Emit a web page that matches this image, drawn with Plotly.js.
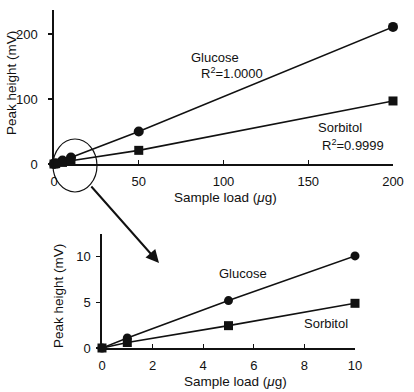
<!DOCTYPE html>
<html><head><meta charset="utf-8">
<script src="https://cdn.plot.ly/plotly-3.0.1.min.js"></script>
<style>html,body{margin:0;padding:0;background:#fff}#c{width:414px;height:392px}</style>
</head><body><div id="c"></div>
<script>
const loadAll = [0, 1, 5, 10, 50, 200];
const glucoseAll = [0, 1.1, 5.2, 10.1, 50, 211];
const sorbitolAll = [0, 0.55, 2.45, 4.9, 21, 97];
const loadZoom = [0, 1, 5, 10];
const glucoseZoom = [0, 1.1, 5.2, 10.1];
const sorbitolZoom = [0, 0.6, 2.45, 4.9];
const xTicksTop = [0, 50, 100, 150, 200];
const yTicksTop = [0, 100, 200];
const xTicksBot = [0, 2, 4, 6, 8, 10];
const yTicksBot = [0, 5, 10];
const xTitle = 'Sample load (<i>μ</i>g)';
const yTitle = 'Peak height (mV)';

const F = 'Arial, "Liberation Sans", Helvetica, sans-serif';
const ink = '#111';
const lineW = 1.6;
function tr(x, y, sym, size, xa, ya) {
  return {x: x, y: y, xaxis: xa, yaxis: ya, mode: 'lines+markers', type: 'scatter',
    line: {color: ink, width: lineW}, marker: {symbol: sym, size: size, color: ink},
    cliponaxis: false, showlegend: false, hoverinfo: 'skip'};
}
const data = [
  tr(loadAll, glucoseAll, 'circle', 10, 'x', 'y'),
  tr(loadAll, sorbitolAll, 'square', 9, 'x', 'y'),
  tr(loadZoom, glucoseZoom, 'circle', 9, 'x2', 'y2'),
  tr(loadZoom, sorbitolZoom, 'square', 9, 'x2', 'y2')
];
function ax(extra) {
  return Object.assign({showgrid: false, zeroline: false, showline: true, linecolor: ink, linewidth: 1.6,
    ticks: 'outside', ticklen: 4, tickwidth: 1.3, tickcolor: ink, tickmode: 'array',
    tickfont: {family: F, size: 13, color: ink}, fixedrange: true}, extra);
}
const tf = {family: F, size: 13, color: ink};
const ttf = {family: F, size: 13.5, color: ink};
function lbl(x, y, t, rot, font) {
  return {xref: 'paper', yref: 'paper', x: x/414, y: (392-y)/392, text: t, showarrow: false, font: font || tf,
    xanchor: 'center', yanchor: 'middle', textangle: rot || 0};
}
const layout = {
  width: 414, height: 392, margin: {l: 0, r: 0, t: 0, b: 0},
  paper_bgcolor: '#fff', plot_bgcolor: 'rgba(0,0,0,0)',
  xaxis: ax({domain: [54/414, 393/414], range: [0, 200], anchor: 'y', tickvals: xTicksTop, ticks: 'inside',
    ticklabelstandoff: 5}),
  yaxis: ax({domain: [(392-164)/392, (392-10)/392], range: [0, 237], anchor: 'x', tickvals: yTicksTop,
    ticklabelstandoff: 8}),
  xaxis2: ax({domain: [102/414, 355/414], range: [0, 10], anchor: 'y2', tickvals: xTicksBot, ticks: 'inside',
    ticklabelstandoff: 5}),
  yaxis2: ax({domain: [(392-348)/392, (392-234)/392], range: [0, 12.5], anchor: 'x2', tickvals: yTicksBot,
    ticklabelstandoff: 3}),
  shapes: [
    {type: 'circle', xref: 'paper', yref: 'paper', x0: 53/414, x1: 97/414, y0: (392-192)/392, y1: (392-139)/392,
      line: {color: ink, width: 1.2}}
  ],
  annotations: [
    {xref: 'paper', yref: 'paper', x: 159/414, y: (392-263)/392, ax: -69, ay: -78, text: '',
      showarrow: true, arrowhead: 2, arrowsize: 1.3, arrowwidth: 2, arrowcolor: ink},
    lbl(225, 198, xTitle, 0, ttf),
    lbl(11, 83, yTitle, -90, ttf),
    lbl(235, 381, xTitle, 0, ttf),
    lbl(58, 296, yTitle, -90, ttf),
    lbl(215, 57, 'Glucose'),
    lbl(232, 73, 'R<sup>2</sup>=1.0000'),
    lbl(340, 127, 'Sorbitol'),
    lbl(353, 145, 'R<sup>2</sup>=0.9999'),
    lbl(243, 273, 'Glucose'),
    lbl(326, 323, 'Sorbitol')
  ]
};
Plotly.newPlot('c', data, layout, {displayModeBar: false, staticPlot: true});
</script></body></html>
